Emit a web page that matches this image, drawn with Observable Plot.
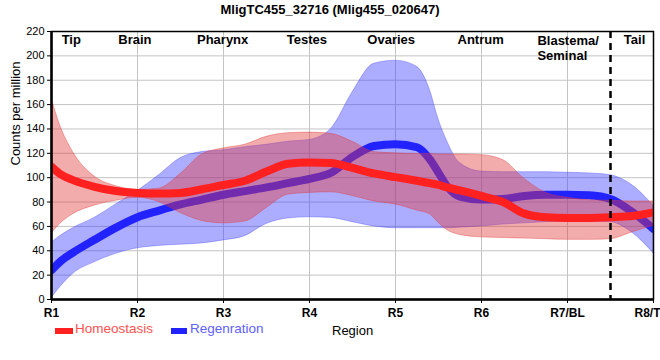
<!DOCTYPE html>
<html>
<head>
<meta charset="utf-8">
<script src="https://cdn.jsdelivr.net/npm/d3@7"></script>
<script src="https://cdn.jsdelivr.net/npm/@observablehq/plot@0.6"></script>
<style>
  html, body { margin: 0; padding: 0; background: white; }
  #wrap { position: relative; width: 660px; height: 360px; font-family: "Liberation Sans", Arial, sans-serif; }
  #title { position: absolute; left: 0; top: 0; width: 660px; height: 20px; text-align: center; font-weight: bold; font-size: 13px; line-height: 20px; color: #000; }
  #chart { position: absolute; left: 0; top: 20px; }
  .lg { position: absolute; line-height: 16px; white-space: nowrap; }
  .sw { position: absolute; height: 6px; }
</style>
</head>
<body>
<div id="wrap">
  <div id="title"></div>
  <div id="chart"></div>
  <div id="legend"></div>
</div>
<script>
const chartTitle = "MligTC455_32716 (Mlig455_020647)";

// positions along the body axis (1 = R1 ... 8 = R8/T)
const positions = [1, 1.1, 1.25, 1.5, 1.75, 2, 2.25, 2.5, 2.75, 3, 3.25, 3.5, 3.75, 4, 4.25, 4.5, 4.75, 5, 5.25, 5.4, 5.5, 5.6, 5.75, 6, 6.25, 6.5, 6.75, 7, 7.25, 7.5, 7.75, 8];

// Homeostasis (counts per million)
const homeoMean = [109, 103, 98, 92.5, 89, 87.5, 87, 87.5, 90.5, 94, 97.5, 105, 111.5, 112.5, 112, 108, 103.5, 100.5, 97.5, 95.5, 94, 92, 89.5, 85, 80, 70.5, 67.5, 67, 67, 67.5, 68.5, 71.5];
const homeoLow  = [54, 62, 70, 77, 81, 83.5, 80, 71, 64.5, 62.5, 64, 75, 86, 87.5, 88, 85, 80.5, 78, 73, 70, 63, 57, 53, 51, 50.5, 50, 49.5, 49, 49, 49.5, 55, 60.5];
const homeoHigh = [165, 143, 121, 101, 93, 90, 91, 103, 119, 124, 127, 133.5, 136.5, 137, 136, 129.5, 121, 120, 119.5, 119.5, 119, 119, 119, 118.5, 114.5, 99, 87.5, 83.5, 81.5, 81, 80.5, 80.5];

// Regenration (counts per million)
const regenMean = [24, 31, 38.5, 49, 59, 67.5, 73, 78, 82, 86, 89, 92, 95.5, 99, 104, 117, 126, 127.5, 125, 115, 104, 93, 84.5, 82, 82.5, 85, 86, 86, 85.5, 82.5, 72, 58];
const regenLow  = [1, 10, 21, 30.5, 37.5, 42, 44, 45, 46, 48.5, 52, 62, 66.5, 67.5, 67, 63.5, 60, 58.5, 58.5, 58.5, 58.5, 58.5, 59, 60, 61.5, 62.5, 63.5, 64, 64, 63.5, 55, 38];
const regenHigh = [46.5, 52, 58.5, 67, 78, 89, 102, 116, 121, 122.5, 125, 127, 129.5, 131, 140, 170, 193.5, 196, 191, 172, 148, 130, 112, 105, 104.5, 104.5, 104.5, 104, 103.5, 102, 94, 77];

const tickPositions = [1, 2, 3, 4, 5, 6, 7, 8];
const tickLabels = ["R1", "R2", "R3", "R4", "R5", "R6", "R7/BL", "R8/T"];
const yTicks = [0, 20, 40, 60, 80, 100, 120, 140, 160, 180, 200, 220];

const regionNames = ["Tip", "Brain", "Pharynx", "Testes", "Ovaries", "Antrum", "Tail"];
const regionPos = [1.23, 1.97, 2.99, 3.97, 4.95, 5.99, 7.78];
const blastemaName = "Blastema/\nSeminal";
const blastemaPos = 6.65;
const dividerPos = 7.5;

const seriesNames = ["Homeostasis", "Regenration"];
const seriesColors = ["#ff2020", "#2222ff"];
const legendTextColors = ["#ff5050", "#6060ff"];

const rows = positions.map((x, i) => ({
  x,
  hm: homeoMean[i], hl: homeoLow[i], hh: homeoHigh[i],
  rm: regenMean[i], rl: regenLow[i], rh: regenHigh[i]
}));

document.getElementById("title").textContent = chartTitle;

const lastTick = tickPositions[tickPositions.length - 1];

const plot = Plot.plot({
  width: 660,
  height: 300,
  marginTop: 11,
  marginBottom: 21,
  marginLeft: 51,
  marginRight: 7,
  style: { fontFamily: "Liberation Sans, Arial, sans-serif", fontSize: "11px", color: "black", background: "white", overflow: "visible" },
  x: { domain: [1, 8], label: null },
  y: { domain: [0, 220], label: null },
  marks: [
    Plot.gridY(yTicks, { stroke: "#c4c4c4", strokeOpacity: 1 }),
    Plot.gridX(tickPositions, { stroke: "#c4c4c4", strokeOpacity: 1 }),
    Plot.areaY(rows, { x: "x", y1: "rl", y2: "rh", curve: "monotone-x", fill: "#3b3bff", fillOpacity: 0.42, stroke: "#3b3bff", strokeOpacity: 0.35, strokeWidth: 1, clip: true }),
    Plot.lineY(rows, { x: "x", y: "rm", curve: "monotone-x", stroke: seriesColors[1], strokeWidth: 8, clip: true }),
    Plot.areaY(rows, { x: "x", y1: "hl", y2: "hh", curve: "monotone-x", fill: "#e23a3a", fillOpacity: 0.42, stroke: "#e23a3a", strokeOpacity: 0.4, strokeWidth: 1, clip: true }),
    Plot.lineY(rows, { x: "x", y: "hm", curve: "monotone-x", stroke: seriesColors[0], strokeWidth: 8, clip: true }),
    Plot.ruleX([dividerPos], { stroke: "black", strokeWidth: 2.5, strokeDasharray: "7,5" }),
    Plot.frame({ stroke: "black", strokeWidth: 1.5 }),
    Plot.ruleX([1], { stroke: "black", strokeWidth: 2.5 }),
    Plot.ruleY([0], { stroke: "black", strokeWidth: 2.5 }),
    Plot.text(regionNames, { x: (d, i) => regionPos[i], y: 213, text: d => d, fontWeight: "bold", fontSize: 13, fill: "black", lineAnchor: "middle" }),
    Plot.text([blastemaName], { x: blastemaPos, y: 217.7, text: d => d, fontWeight: "bold", fontSize: 13, fill: "black", textAnchor: "start", lineAnchor: "top", lineHeight: 1.15 }),
    Plot.text(["Counts per million"], { frameAnchor: "left", dx: -36, rotate: -90, text: d => d, fontSize: 13, fill: "black" }),
    Plot.axisY(yTicks, { tickSize: 4, tickPadding: 3, fontSize: 11, label: null, stroke: "black" }),
    Plot.axisX(tickPositions, { tickSize: 4, tickPadding: 5, fontSize: 12, fontWeight: "bold", label: null, tickFormat: d => (d === lastTick ? "" : tickLabels[d - 1]), stroke: "black" }),
    // last tick label sits at the right edge, anchored so it stays inside the picture
    Plot.text([lastTick], { x: d => d, y: 0, text: d => tickLabels[d - 1], textAnchor: "end", dx: 7, dy: 9, lineAnchor: "top", fontSize: 12, fontWeight: "bold", fill: "black" })
  ]
});
document.getElementById("chart").appendChild(plot);

// legend row below the chart
const legend = document.getElementById("legend");
const swatchLeft = [55, 171];
const swatchWidth = [18, 16];
const textLeft = [75, 190];
seriesNames.forEach((name, i) => {
  const sw = document.createElement("div");
  sw.className = "sw";
  sw.style.left = swatchLeft[i] + "px";
  sw.style.top = "328px";
  sw.style.width = swatchWidth[i] + "px";
  sw.style.background = seriesColors[i];
  legend.appendChild(sw);
  const t = document.createElement("div");
  t.className = "lg";
  t.style.left = textLeft[i] + "px";
  t.style.top = "321px";
  t.style.fontSize = "13.5px";
  t.style.color = legendTextColors[i];
  t.textContent = name;
  legend.appendChild(t);
});
const xl = document.createElement("div");
xl.className = "lg";
xl.style.left = "332px";
xl.style.top = "323px";
xl.style.fontSize = "13px";
xl.style.color = "black";
xl.textContent = "Region";
legend.appendChild(xl);
</script>
</body>
</html>
